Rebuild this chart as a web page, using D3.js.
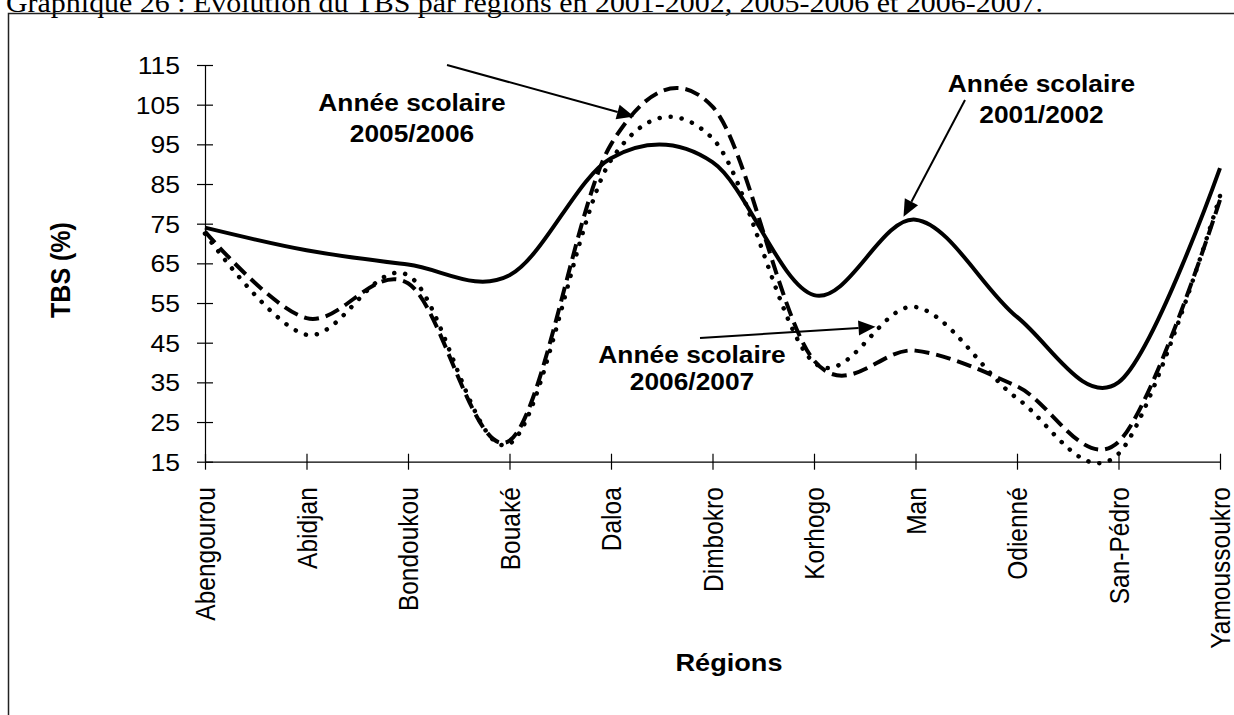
<!DOCTYPE html>
<html>
<head>
<meta charset="utf-8">
<script src="https://cdn.jsdelivr.net/npm/d3@7"></script>
<style>
  html, body { margin: 0; padding: 0; background: #fff; }
  svg { display: block; }
  .sans { font-family: Arial, "Liberation Sans", sans-serif; }
</style>
</head>
<body>
<svg id="chart" width="1234" height="715"></svg>
<script>
// ---------- DATA ----------
const categories = ["Abengourou", "Abidjan", "Bondoukou", "Bouaké", "Daloa", "Dimbokro",
                    "Korhogo", "Man", "Odienné", "San-Pédro", "Yamoussoukro"];
const tbs2001_2002 = [74, 68.3, 64.7, 62, 91.5, 90.5, 57, 76, 51.5, 35, 89];
const tbs2005_2006 = [73, 51.2, 60, 20.3, 95, 104.5, 40.5, 43, 34, 20, 81];
const tbs2006_2007 = [72.5, 47, 62, 19.5, 91, 96.5, 40, 54, 31, 17, 82];
const yTicks = [15, 25, 35, 45, 55, 65, 75, 85, 95, 105, 115];
const titleText = "Graphique 26 : Evolution du TBS par régions en 2001-2002, 2005-2006 et 2006-2007.";
const yTitle = "TBS (%)";
const xTitle = "Régions";

// ---------- SETUP ----------
const SX = 1.13; // horizontal stretch of text in the original
const svg = d3.select("#chart");

const x = d3.scalePoint().domain(categories).range([205, 1220]);
const y = d3.scaleLinear().domain([15, 115]).range([461.7, 65]);

// Document title (cut off at top)
svg.append("text")
  .attr("font-family", "'Times New Roman', 'Liberation Serif', serif")
  .attr("font-size", 26.5)
  .attr("fill", "#000")
  .attr("transform", `translate(6,11.8) scale(${SX},1)`)
  .text(titleText);

// Frame
svg.append("path")
  .attr("d", "M8.5,715 V13.5 H1234")
  .attr("fill", "none").attr("stroke", "#222").attr("stroke-width", 1.5);

// ---------- AXES ----------
const yAxis = svg.append("g")
  .attr("transform", `translate(${x.range()[0]},0)`)
  .call(d3.axisLeft(y).tickValues(yTicks).tickSizeOuter(0).tickSizeInner(8));
yAxis.select(".domain").attr("stroke", "#000").attr("stroke-width", 1.2);
yAxis.selectAll(".tick line").attr("x1", -8).attr("x2", 8).attr("stroke", "#000").attr("stroke-width", 1.2);
yAxis.selectAll(".tick text")
  .attr("class", "sans")
  .attr("font-size", 23.5)
  .attr("fill", "#000")
  .attr("x", null).attr("dy", null)
  .attr("text-anchor", "end")
  .attr("transform", `translate(-25,8.4) scale(${SX},1)`);

const xAxis = svg.append("g")
  .attr("transform", `translate(0,${y(15)})`)
  .call(d3.axisBottom(x).tickSizeOuter(0).tickSizeInner(8));
xAxis.select(".domain").attr("stroke", "#000").attr("stroke-width", 1.2);
xAxis.selectAll(".tick line").attr("y1", -8).attr("y2", 8).attr("stroke", "#000").attr("stroke-width", 1.2);
xAxis.selectAll(".tick text")
  .attr("class", "sans")
  .attr("font-size", 24.5)
  .attr("fill", "#000")
  .attr("y", null).attr("dy", "0.36em")
  .attr("text-anchor", "end")
  .attr("transform", `translate(0,25.5) scale(${SX},1) rotate(-90)`);

// Axis titles
svg.append("text")
  .attr("class", "sans")
  .attr("font-size", 25).attr("font-weight", "bold")
  .attr("text-anchor", "middle").attr("dy", "0.36em")
  .attr("transform", `translate(60,270) scale(${SX},1) rotate(-90)`)
  .text(yTitle);

svg.append("text")
  .attr("class", "sans")
  .attr("font-size", 24).attr("font-weight", "bold")
  .attr("text-anchor", "middle")
  .attr("transform", `translate(729,671) scale(${SX},1)`)
  .text(xTitle);

// ---------- LINES ----------
const line = d3.line()
  .x((d, i) => x(categories[i]))
  .y(d => y(d))
  .curve(d3.curveCardinal.tension(0));

svg.append("path").datum(tbs2006_2007)
  .attr("d", line).attr("fill", "none")
  .attr("stroke", "#000").attr("stroke-width", 4.5)
  .attr("stroke-linecap", "round")
  .attr("stroke-dasharray", "0.1,11");

svg.append("path").datum(tbs2005_2006)
  .attr("d", line).attr("fill", "none")
  .attr("stroke", "#000").attr("stroke-width", 4)
  .attr("stroke-dasharray", "15,7");

svg.append("path").datum(tbs2001_2002)
  .attr("d", line).attr("fill", "none")
  .attr("stroke", "#000").attr("stroke-width", 4);

// ---------- ANNOTATIONS ----------
const annotations = [
  { lines: ["Année scolaire", "2005/2006"], cx: 412, base: [110.5, 141.7],
    from: [447, 65], to: [x("Daloa") + 23, y(102) ] },
  { lines: ["Année scolaire", "2001/2002"], cx: 1041.5, base: [91.7, 123],
    from: [965, 100], to: [x("Man") - 12, y(76) - 3] },
  { lines: ["Année scolaire", "2006/2007"], cx: 692, base: [363.3, 390],
    from: [700, 338], to: [x("Man") - 40, y(49)] }
];

annotations.forEach(a => {
  a.lines.forEach((t, i) => {
    svg.append("text")
      .attr("class", "sans")
      .attr("font-size", 23.3).attr("font-weight", "bold")
      .attr("text-anchor", "middle")
      .attr("transform", `translate(${a.cx},${a.base[i]}) scale(${SX},1)`)
      .text(t);
  });
  const [x0, y0] = a.from, [x1, y1] = a.to;
  const ang = Math.atan2(y1 - y0, x1 - x0);
  const L = 17, W = 7.5;
  const bx = x1 - L * Math.cos(ang), by = y1 - L * Math.sin(ang);
  svg.append("line")
    .attr("x1", x0).attr("y1", y0).attr("x2", bx).attr("y2", by)
    .attr("stroke", "#000").attr("stroke-width", 2);
  const px = -Math.sin(ang), py = Math.cos(ang);
  svg.append("path")
    .attr("d", `M${x1},${y1} L${bx + W * px},${by + W * py} L${bx - W * px},${by - W * py} Z`)
    .attr("fill", "#000");
});
</script>
</body>
</html>
